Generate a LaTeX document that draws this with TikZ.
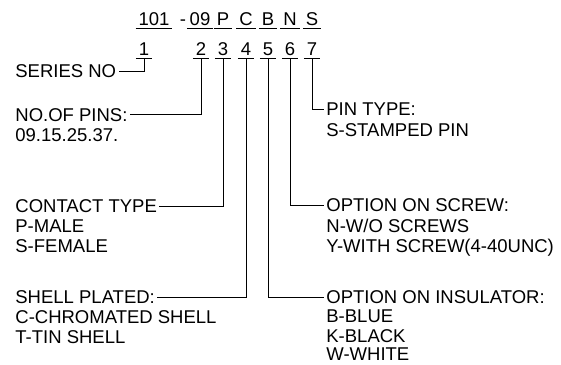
\documentclass[tikz,border=0pt]{standalone}
\usepackage{fontspec}
\setmainfont{Liberation Sans}
\begin{document}
\begin{tikzpicture}[x=1pt,y=-1pt,line width=0.8pt,
  txt/.style={inner sep=0pt,font=\fontsize{18.5}{20}\selectfont,text=black},
  ul/.style={txt,inner xsep=2.5pt,text height=13pt,text depth=3pt,anchor=base},
  head/.style={txt,inner xsep=2pt,text height=13pt,text depth=0pt,anchor=base west},
  line/.style={txt,anchor=base west},
  conn/.style={draw=black,line width=0.8pt}]
\useasboundingbox (0,0) rectangle (561,364);
% top code row
\node[ul] (t1) at (154,25) {101};
\node[txt,anchor=base] (dash) at (183,25) {-};
\node[ul] (t2) at (200,25) {09};
\node[ul] (t3) at (223,25) {P};
\node[ul] (t4) at (246,25) {C};
\node[ul] (t5) at (268,25) {B};
\node[ul] (t6) at (290,25) {N};
\node[ul] (t7) at (312,25) {S};
% digit row
\node[ul] (d1) at (144,55) {1};
\node[ul] (d2) at (201,55) {2};
\node[ul] (d3) at (223,55) {3};
\node[ul] (d4) at (246,55) {4};
\node[ul] (d5) at (268,55) {5};
\node[ul] (d6) at (290,55) {6};
\node[ul] (d7) at (312,55) {7};
\foreach \n in {t1,t2,t3,t4,t5,t6,t7,d1,d2,d3,d4,d5,d6,d7}
  \draw[conn] (\n.south west) -- (\n.south east);
% left labels
\node[head] (series) at (13,77.5) {SERIES NO};
\node[head] (pins) at (13,121) {NO.OF PINS:};
\node[line] (pinsA) at (15,141.5) {09.15.25.37.};
\node[head] (contact) at (13,212.5) {CONTACT TYPE};
\node[line] (contactA) at (15,232.5) {P-MALE};
\node[line] (contactB) at (15,252.5) {S-FEMALE};
\node[head] (shell) at (13,303.5) {SHELL PLATED:\hspace{6pt}};
\node[line] (shellA) at (15,323) {C-CHROMATED SHELL};
\node[line] (shellB) at (15,343) {T-TIN SHELL};
% right labels
\node[head] (pintype) at (324,115.5) {PIN TYPE:};
\node[line] (pintypeA) at (326,136) {S-STAMPED PIN};
\node[head] (screw) at (324,211.5) {OPTION ON SCREW:};
\node[line] (screwA) at (326,232) {N-W/O SCREWS};
\node[line] (screwB) at (326,252) {Y-WITH SCREW(4-40UNC)};
\node[head] (insul) at (324,303.5) {OPTION ON INSULATOR:};
\node[line] (insulA) at (326,322.5) {B-BLUE};
\node[line] (insulB) at (326,342) {K-BLACK};
\node[line] (insulC) at (326,360.5) {W-WHITE};
% connectors
\draw[conn] (d1.south) |- (series.east);
\draw[conn] (d2.south) |- (pins.east);
\draw[conn] (d3.south) |- (contact.east);
\draw[conn] (d4.south) |- (shell.east);
\draw[conn] (d5.south) |- (insul.west);
\draw[conn] (d6.south) |- (screw.west);
\draw[conn] (d7.south) |- (pintype.west);
\end{tikzpicture}
\end{document}
